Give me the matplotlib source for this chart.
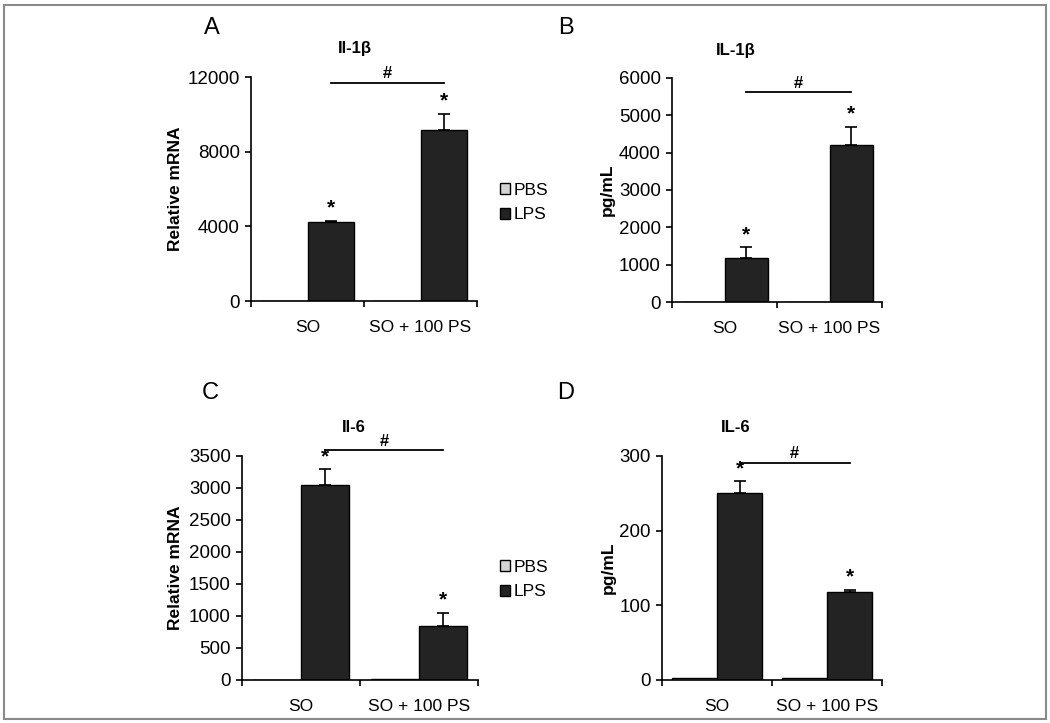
'''
Cytokine bar panels (Il-1b / Il-6, mRNA and protein)
'''

import matplotlib.pyplot as plt
from matplotlib.patches import Rectangle
import numpy as np

plt.rcParams['font.family'] = ['Liberation Sans', 'DejaVu Sans']

W, H = 1050, 723

groups = ['SO', 'SO + 100 PS']
series = ['PBS', 'LPS']

# panel A - Il-1b relative mRNA
a_pbs = [1, 1]
a_lps = [4250, 9150]
a_lps_err = [60, 880]

# panel B - IL-1b pg/mL
b_pbs = [4, 4]
b_lps = [1190, 4210]
b_lps_err = [280, 490]

# panel C - Il-6 relative mRNA
c_pbs = [3, 20]
c_lps = [3040, 840]
c_lps_err = [250, 210]

# panel D - IL-6 pg/mL
d_pbs = [3, 3]
d_lps = [251, 118]
d_lps_err = [15, 3]

ymax = [12000, 6000, 3500, 300]
ystep = [4000, 1000, 500, 100]
hash_y = [11700, 5620, 3590, 291]
titles = ['Il-1\u03b2', 'IL-1\u03b2', 'Il-6', 'IL-6']
ylabels = ['Relative mRNA', 'pg/mL', 'Relative mRNA', 'pg/mL']
letters = ['A', 'B', 'C', 'D']


def fx(x):
    return x / W


def fy(y):
    return 1 - y / H


fig = plt.figure(figsize=(W / 100, H / 100), dpi=100)

# axes boxes in pixels: left, right, top, bottom
boxes = [(251, 477, 77, 301), (672, 882, 78, 302),
         (242, 478, 456, 680), (662, 882, 456, 680)]
title_pos = [(355, 48), (736, 51), (354, 428), (736, 428)]
letter_pos = [(212, 28), (566, 28), (210, 393), (566, 393)]
ylabel_x = [175, 607, 175, 608]

data = [(a_pbs, a_lps, a_lps_err), (b_pbs, b_lps, b_lps_err),
        (c_pbs, c_lps, c_lps_err), (d_pbs, d_lps, d_lps_err)]

x = np.arange(len(groups))
bw = 0.41
dark = '#232323'
light = '#d4d4d4'

for i, (pbs, lps, err) in enumerate(data):
    l, r, t, b = boxes[i]
    ax = fig.add_axes([fx(l), fy(b), (r - l) / W, (b - t) / H])

    bp = ax.bar(x - bw / 2, pbs, bw, color=light, edgecolor='black', linewidth=1, label=series[0])
    bl = ax.bar(x + bw / 2, lps, bw, color=dark, edgecolor='black', linewidth=1, label=series[1])
    ax.errorbar(x + bw / 2, lps, yerr=[np.zeros(len(lps)), err], fmt='none',
                ecolor='black', elinewidth=1.2, capsize=4, capthick=1.2)

    # significance stars
    for xi, v, e in zip(x + bw / 2, lps, err):
        ax.annotate('*', (xi, v + e), xytext=(0, 9), textcoords='offset points',
                    ha='center', va='center', fontsize=15, fontweight='bold',
                    annotation_clip=False)

    # hash bar between LPS groups
    ax.plot([x[0] + bw / 2, x[1] + bw / 2], [hash_y[i], hash_y[i]],
            color='black', lw=1.3, clip_on=False)
    ax.annotate('#', ((x[0] + x[1]) / 2 + bw / 2, hash_y[i]), xytext=(0, 1),
                textcoords='offset points', ha='center', va='bottom',
                fontsize=12, fontweight='bold', annotation_clip=False)

    ax.set_xlim(-0.5, 1.5)
    ax.set_ylim(0, ymax[i])
    ax.set_yticks(np.arange(0, ymax[i] + 1, ystep[i]))
    ax.set_xticks(x)
    ax.set_xticklabels(groups, fontsize=12.5)
    ax.set_xticks([-0.5, 0.5, 1.5], minor=True)
    ax.tick_params(axis='x', which='major', length=0, pad=14)
    ax.tick_params(axis='x', which='minor', length=4, width=1.2, direction='out')
    ax.tick_params(axis='y', length=4, width=1.2, labelsize=13.5, pad=4)
    for s in ['top', 'right']:
        ax.spines[s].set_visible(False)
    for s in ['left', 'bottom']:
        ax.spines[s].set_linewidth(1.2)

    fig.text(fx(title_pos[i][0]), fy(title_pos[i][1]), titles[i], ha='center',
             va='center', fontsize=12, fontweight='bold')
    fig.text(fx(letter_pos[i][0]), fy(letter_pos[i][1]), letters[i], ha='center',
             va='center', fontsize=17)
    fig.text(fx(ylabel_x[i]), fy((t + b) / 2), ylabels[i], rotation=90, ha='center',
             va='center', fontsize=12.5, fontweight='bold')

    if i in (0, 2):
        fig.legend(handles=[bp, bl], loc='upper left',
                   bbox_to_anchor=(fx(491), fy(174 if i == 0 else 551)),
                   frameon=False, fontsize=12.5, handlelength=0.6, handleheight=0.6,
                   handletextpad=0.2, labelspacing=0.55, borderpad=0)

# grey frame round the figure
fig.patches.append(Rectangle((fx(4), fy(719)), (1046 - 4) / W, (719 - 5) / H,
                             transform=fig.transFigure, fill=False,
                             edgecolor='#8a8a8a', linewidth=1.5))

fig.savefig('out.png', dpi=100, facecolor='white')
